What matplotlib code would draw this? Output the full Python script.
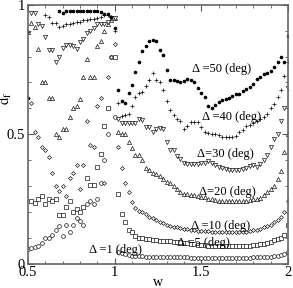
import numpy as np
import matplotlib
matplotlib.use("Agg")
import matplotlib.pyplot as plt
from matplotlib.ticker import MultipleLocator, FormatStrFormatter

# ----------------------------
# Data
# ----------------------------

nan = np.nan

w = np.round(np.arange(0.50, 2.001, 0.02), 2)

d1 = [0.058, 0.060, 0.062, 0.066, 0.080, 0.100, 0.100, 0.110, 0.130, 0.145,
      0.105, 0.150, 0.120, 0.150, 0.175, 0.165, 0.150, 0.230, 0.240, 0.230,
      0.250, 0.310, 0.400, 0.500, 0.800, 0.565,
      0.045, 0.040, 0.035, 0.032, 0.030, 0.029, 0.028, 0.028, 0.027, 0.027,
      0.026, 0.026, 0.025, 0.025, 0.025, 0.025, 0.024, 0.024, 0.024, 0.024,
      0.024, 0.023, 0.023, 0.023, 0.023, 0.023, 0.023, 0.022, 0.022, 0.022,
      0.022, 0.022, 0.022, 0.022, 0.022, 0.022, 0.023, 0.023, 0.023, 0.024,
      0.024, 0.025, 0.025, 0.026, 0.027, 0.028, 0.030, 0.032, 0.036, 0.045]

d5 = [nan, 0.240, 0.235, 0.250, 0.260, 0.230, 0.250, 0.240, 0.250, 0.186,
      0.186, 0.220, 0.240, 0.200, 0.210, 0.200, 0.220, 0.330, 0.305, 0.305,
      0.375, 0.425, 0.530, 0.600, nan, 0.800,
      0.270, 0.190, 0.160, 0.130, 0.120, 0.105, 0.100, 0.098, 0.095, 0.093,
      0.092, 0.090, 0.089, 0.088, 0.087, 0.086, 0.085, 0.084, 0.082, 0.080,
      0.078, 0.076, 0.074, 0.072, 0.070, 0.070, 0.068, 0.068, 0.067, 0.066,
      0.066, 0.066, 0.066, 0.066, 0.066, 0.066, 0.066, 0.067, 0.068, 0.070,
      0.072, 0.074, 0.076, 0.080, 0.085, 0.090, 0.095, 0.100, 0.110, 0.150]

d10 = [nan, 0.620, 0.510, 0.490, 0.450, 0.440, 0.410, 0.350, 0.300, 0.280,
       0.300, 0.260, 0.330, 0.350, 0.380, 0.290, 0.380, 0.550, 0.460, 0.450,
       0.610, 0.640, 0.310, 0.720, 0.800, 0.850,
       0.450, 0.370, 0.310, 0.275, 0.236, 0.215, 0.205, 0.198, 0.190, 0.180,
       0.175, 0.168, 0.162, 0.155, 0.150, 0.147, 0.143, 0.140, 0.137, 0.135,
       0.133, 0.130, 0.128, 0.127, 0.126, 0.125, 0.124, 0.123, 0.122, 0.121,
       0.120, 0.120, 0.120, 0.120, 0.120, 0.120, 0.120, 0.122, 0.125, 0.128,
       0.130, 0.135, 0.140, 0.145, 0.150, 0.160, 0.170, 0.180, 0.200, 0.240]

d20 = [0.895, 0.930, 0.915, 0.830, 0.700, 0.700, 0.640, 0.640, 0.500, 0.490,
       0.520, 0.520, 0.566, 0.600, 0.610, 0.635, 0.720, 0.790, 0.720, 0.720,
       0.840, 0.860, 0.900, 0.925, 0.940, 0.950,
       0.510, 0.500, 0.500, 0.470, 0.445, 0.420, 0.420, 0.400, 0.370, 0.360,
       0.350, 0.345, 0.340, 0.325, 0.315, 0.310, 0.300, 0.290, 0.275, 0.270,
       0.268, 0.265, 0.264, 0.260, 0.258, 0.256, 0.250, 0.248, 0.245, 0.243,
       0.242, 0.240, 0.240, 0.240, 0.240, 0.240, 0.240, 0.242, 0.245, 0.248,
       0.250, 0.255, 0.265, 0.275, 0.290, 0.300, 0.325, 0.357, 0.430, 0.500]

d30 = [nan, 0.970, 0.970, 0.925, 0.920, 0.875, 0.825, 0.825, 0.780, 0.800,
       0.835, 0.845, 0.845, 0.840, 0.830, 0.857, 0.870, 0.890, 0.900, 0.910,
       0.926, 0.926, 0.926, 0.935, 0.950, 0.950,
       0.560, 0.545, 0.545, 0.545, 0.545, 0.545, 0.558, 0.555, 0.527, 0.527,
       0.510, 0.520, 0.523, 0.520, 0.470, 0.440, 0.440, 0.415, 0.405, 0.390,
       0.385, 0.385, 0.385, 0.385, 0.388, 0.390, 0.395, 0.390, 0.380, 0.375,
       0.370, 0.365, 0.362, 0.360, 0.360, 0.362, 0.365, 0.370, 0.378, 0.380,
       0.375, 0.385, 0.400, 0.420, 0.450, 0.480, 0.500, 0.550, 0.600, 0.680]

d40 = [0.895, nan, nan, nan, nan, 0.960, 0.955, 0.930, 0.930, 0.914,
       0.920, 0.925, 0.928, 0.930, 0.932, 0.935, 0.940, 0.940, 0.945, 0.947,
       0.950, 0.955, 0.960, 0.960, 0.955, 0.900,
       0.620, 0.570, 0.575, 0.580, 0.610, 0.645, 0.660, 0.665, 0.686, 0.710,
       0.736, 0.710, 0.700, 0.670, 0.628, 0.593, 0.575, 0.560, 0.550, 0.520,
       0.530, 0.546, 0.546, 0.546, 0.527, 0.510, 0.505, 0.500, 0.500, 0.498,
       0.490, 0.488, 0.490, 0.490, 0.492, 0.510, 0.515, 0.530, 0.535, 0.545,
       0.550, 0.560, 0.565, 0.580, 0.600, 0.616, 0.643, 0.670, 0.725, 0.780]

d50 = [0.640, nan, nan, nan, nan, nan, nan, nan, nan, 0.975,
       0.970, 0.975, 0.975, 0.975, 0.975, 0.975, 0.975, 0.975, 0.975, 0.975,
       0.975, 0.972, 0.965, 0.965, 0.955, 0.910,
       0.670, 0.630, 0.620, 0.660, 0.690, 0.740, 0.780, 0.820, 0.840, 0.860,
       0.865, 0.860, 0.825, 0.806, 0.748, 0.710, 0.710, 0.705, 0.703, 0.706,
       0.713, 0.710, 0.700, 0.680, 0.660, 0.643, 0.610, 0.600, 0.612, 0.624,
       0.632, 0.636, 0.640, 0.647, 0.655, 0.655, 0.667, 0.674, 0.682, 0.694,
       0.713, 0.720, 0.733, 0.736, 0.744, 0.760, 0.780, 0.800, 0.780, 0.880]

labels = ["\u0394 =1 (deg)", "\u0394 =5 (deg)", "\u0394 =10 (deg)",
          "\u0394=20 (deg)", "\u0394=30 (deg)", "\u0394 =40 (deg)",
          "\u0394 =50 (deg)"]
label_x = [0.851, 1.362, 1.443, 1.489, 1.477, 1.506, 1.448]
label_y = [0.054, 0.078, 0.147, 0.275, 0.422, 0.566, 0.752]

# ----------------------------
# Plot
# ----------------------------

plt.rcParams["font.family"] = "Liberation Serif"
plt.rcParams["mathtext.fontset"] = "stix"

fig = plt.figure(figsize=(2.93, 2.88), dpi=100)
ax = fig.add_axes([0.0956, 0.085, 0.887, 0.898])

open_style = dict(linestyle="none", mfc="white", mec="black", mew=0.45)

ax.plot(w, d1, marker="o", ms=2.7, **open_style)
ax.plot(w, d5, marker="s", ms=2.5, **open_style)
ax.plot(w, d10, marker="D", ms=2.0, **open_style)
ax.plot(w, d20, marker="^", ms=3.0, **open_style)
ax.plot(w, d30, marker="v", ms=3.0, **open_style)
ax.plot(w, d40, marker="+", ms=3.4, linestyle="none", color="black", mew=0.5)
ax.plot(w, d50, marker="o", ms=2.6, linestyle="none", color="black", mew=0)

for lab, lx, ly in zip(labels, label_x, label_y):
    ax.text(lx, ly, lab, fontsize=9, ha="left", va="center")

ax.set_xlim(0.5, 2.0)
ax.set_ylim(0, 1)

ax.xaxis.set_major_locator(MultipleLocator(0.5))
ax.xaxis.set_minor_locator(MultipleLocator(0.1))
ax.yaxis.set_major_locator(MultipleLocator(0.5))
ax.yaxis.set_minor_locator(MultipleLocator(0.1))
ax.xaxis.set_major_formatter(FormatStrFormatter("%g"))
ax.yaxis.set_major_formatter(FormatStrFormatter("%g"))

ax.tick_params(which="both", direction="in", top=True, right=True,
               labelsize=10.5, pad=2, color="#555555")
ax.tick_params(which="major", length=4)
ax.tick_params(which="minor", length=2)

for s in ax.spines.values():
    s.set_color("#666666")
    s.set_linewidth(1.2)

ax.set_xlabel("w", fontsize=10)
ax.xaxis.set_label_coords(0.5, -0.048)
ax.set_ylabel(r"$\bar{\mathrm{d}}_{\mathrm{f}}$", fontsize=10.5)
ax.yaxis.set_label_coords(-0.052, 0.64)

plt.savefig("out.png", dpi=100)
